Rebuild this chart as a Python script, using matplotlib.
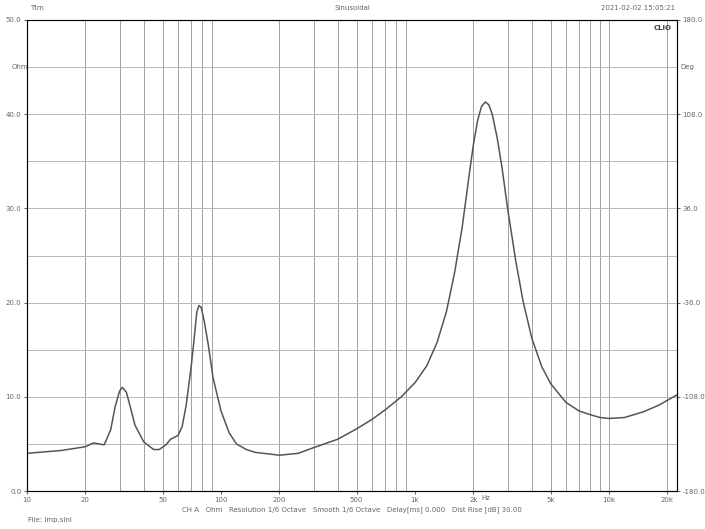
import matplotlib.pyplot as plt
import numpy as np

freq = [10, 15, 20, 22, 25, 27, 28.5, 30, 31, 32.5, 34, 36, 40, 45, 48, 52, 55, 60, 63, 66,
        70, 73, 75, 77, 79, 82, 86, 91, 100, 110, 120, 135, 150, 200, 250, 300, 400, 500,
        600, 700, 850, 1000, 1150, 1300, 1450, 1600, 1750, 1900, 2000, 2100, 2200, 2300,
        2400, 2500, 2650, 2800, 3000, 3300, 3600, 4000, 4500, 5000, 6000, 7000, 8000,
        9000, 10000, 12000, 15000, 18000, 22400]
ohm = [4.0, 4.3, 4.7, 5.1, 4.9, 6.5, 9.0, 10.6, 11.0, 10.5, 9.0, 7.0, 5.2, 4.4, 4.4, 4.9,
       5.5, 5.9, 6.8, 9.0, 13.0, 16.5, 19.0, 19.7, 19.5, 18.0, 15.5, 12.0, 8.5, 6.2, 5.0,
       4.4, 4.1, 3.8, 4.0, 4.6, 5.5, 6.6, 7.6, 8.6, 10.0, 11.5, 13.3, 15.8, 19.0, 23.2,
       28.0, 33.5, 36.8, 39.3, 40.8, 41.3, 41.0, 40.0, 37.5, 34.5, 30.0, 24.5, 20.2, 16.2,
       13.2, 11.4, 9.4, 8.5, 8.1, 7.8, 7.7, 7.8, 8.4, 9.1, 10.2]

yticks = [0, 10, 20, 30, 40, 50]
ylabels = ['0.0', '10.0', '20.0', '30.0', '40.0', '50.0']
rlabels = ['-180.0', '-108.0', '-36.0', '36.0', '108.0', '180.0']
xticks = [10, 20, 50, 100, 200, 500, 1000, 2000, 5000, 10000, 20000]
xlabels = ['10', '20', '50', '100', '200', '500', '1k', '2k', '5k', '10k', '20k']

txt = '#666666'
fig = plt.figure(figsize=(7.05, 5.29), dpi=100)
ax = fig.add_axes([27 / 705, 38 / 529, 650 / 705, 471 / 529])
ax.set_xscale('log')
ax.set_xlim(10, 22400)
ax.set_ylim(0, 50)

grid_x = [m * 10 ** e for e in range(1, 5) for m in range(2, 10) if m * 10 ** e < 22400] + [10000, 20000]
for gx in grid_x:
    ax.axvline(gx, color='#a0a0a0', lw=0.7, zorder=0)
for gy in range(5, 50, 5):
    ax.axhline(gy, color='#b8b8b8', lw=0.7, zorder=0)

ax.plot(freq, ohm, color='#555555', lw=1.1)

ax.set_xticks(xticks)
ax.set_xticklabels(xlabels)
ax.minorticks_off()
ax.set_yticks(yticks)
ax.set_yticklabels(ylabels)
ax.tick_params(labelsize=5, colors=txt, length=2, pad=2)
for s in ax.spines.values():
    s.set_color('#777777')
    s.set_linewidth(0.8)

ax2 = ax.twinx()
ax2.set_ylim(0, 50)
ax2.set_yticks(yticks)
ax2.set_yticklabels(rlabels)
ax2.tick_params(labelsize=5, colors=txt, length=2, pad=2)

fig.text(12 / 705, 1 - 67 / 529, 'Ohm', fontsize=5, color=txt, va='center')
fig.text(680 / 705, 1 - 67 / 529, 'Deg', fontsize=5, color=txt, va='center')
fig.text(30 / 705, 1 - 8 / 529, 'Ttm', fontsize=5, color=txt, va='center')
fig.text(352 / 705, 1 - 8 / 529, 'Sinusoidal', fontsize=5, color=txt, va='center', ha='center')
fig.text(675 / 705, 1 - 8 / 529, '2021-02-02 15:05:21', fontsize=5, color=txt, va='center', ha='right')
fig.text(672 / 705, 1 - 28 / 529, 'CLIO', fontsize=5, color='#444444', va='center', ha='right', weight='bold')
fig.text(486 / 705, 1 - 498 / 529, 'Hz', fontsize=5, color=txt, va='center', ha='center')
fig.text(352 / 705, 1 - 510 / 529,
         'CH A   Ohm   Resolution 1/6 Octave   Smooth 1/6 Octave   Delay[ms] 0.000   Dist Rise [dB] 30.00',
         fontsize=5, color=txt, va='center', ha='center')
fig.text(28 / 705, 1 - 520 / 529, 'File: imp.sini', fontsize=5, color=txt, va='center')

fig.savefig('out.png', dpi=100)
